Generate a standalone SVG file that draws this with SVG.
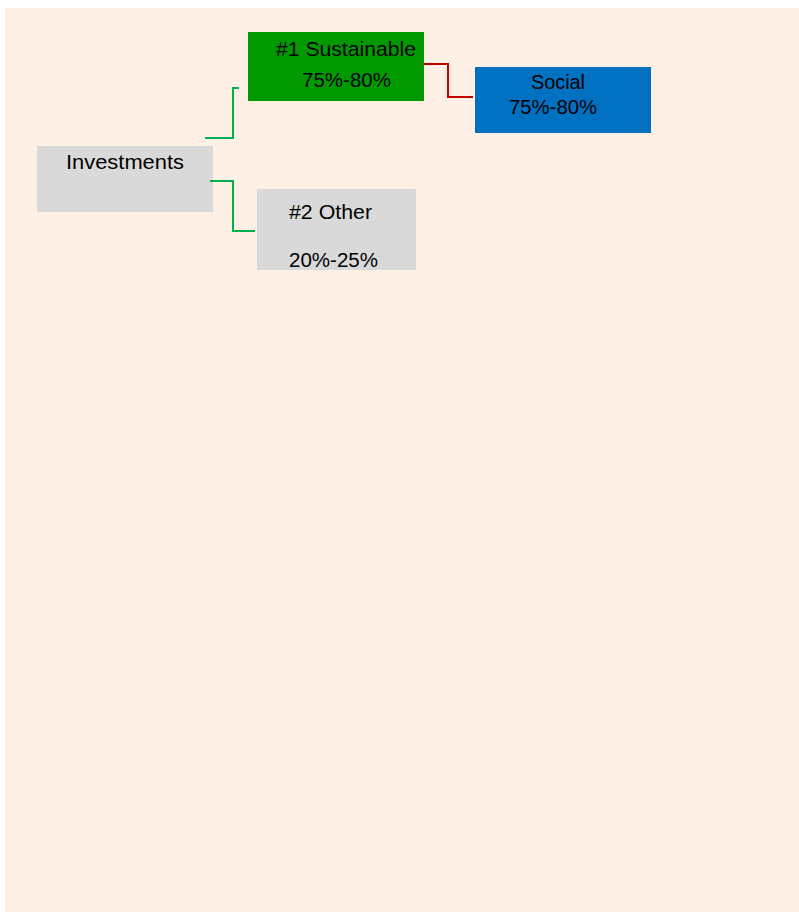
<svg xmlns="http://www.w3.org/2000/svg" width="799" height="913" viewBox="0 0 799 913">
<style>
.t{font-family:"Liberation Sans",Arial,sans-serif;font-size:20.5px;fill:#000}
.g{fill:none;stroke:#00B050;stroke-width:2}
.r{fill:none;stroke:#C00000;stroke-width:2}
</style>
<rect x="0" y="0" width="799" height="913" fill="#ffffff"/>
<rect x="5" y="8" width="794" height="904" fill="#FEF0E4"/>
<g id="investments">
<rect x="37" y="146" width="176" height="66" fill="#D9D9D9"/>
<text class="t" x="66" y="169" textLength="118" lengthAdjust="spacingAndGlyphs">Investments</text>
</g>
<g id="sustainable">
<rect x="248" y="32" width="176" height="69" fill="#009900"/>
<text class="t" x="276" y="56" textLength="140" lengthAdjust="spacingAndGlyphs">#1 Sustainable</text>
<text class="t" x="302" y="86.5" textLength="89" lengthAdjust="spacingAndGlyphs">75%-80%</text>
</g>
<g id="other">
<rect x="257" y="189" width="159" height="81" fill="#D9D9D9"/>
<text class="t" x="289" y="219" textLength="83" lengthAdjust="spacingAndGlyphs">#2 Other</text>
<text class="t" x="289" y="266.5" textLength="89" lengthAdjust="spacingAndGlyphs">20%-25%</text>
</g>
<g id="social">
<rect x="475" y="67" width="176" height="66" fill="#0070C0"/>
<text class="t" x="531" y="89" textLength="54" lengthAdjust="spacingAndGlyphs">Social</text>
<text class="t" x="509" y="114" textLength="88" lengthAdjust="spacingAndGlyphs">75%-80%</text>
</g>
<g id="connectors">
<polyline class="g" points="205,138 233,138 233,88 239,88"/>
<polyline class="g" points="210,181 233,181 233,231 255,231"/>
<polyline class="r" points="424,64 448,64 448,97 473,97"/>
</g>
</svg>
